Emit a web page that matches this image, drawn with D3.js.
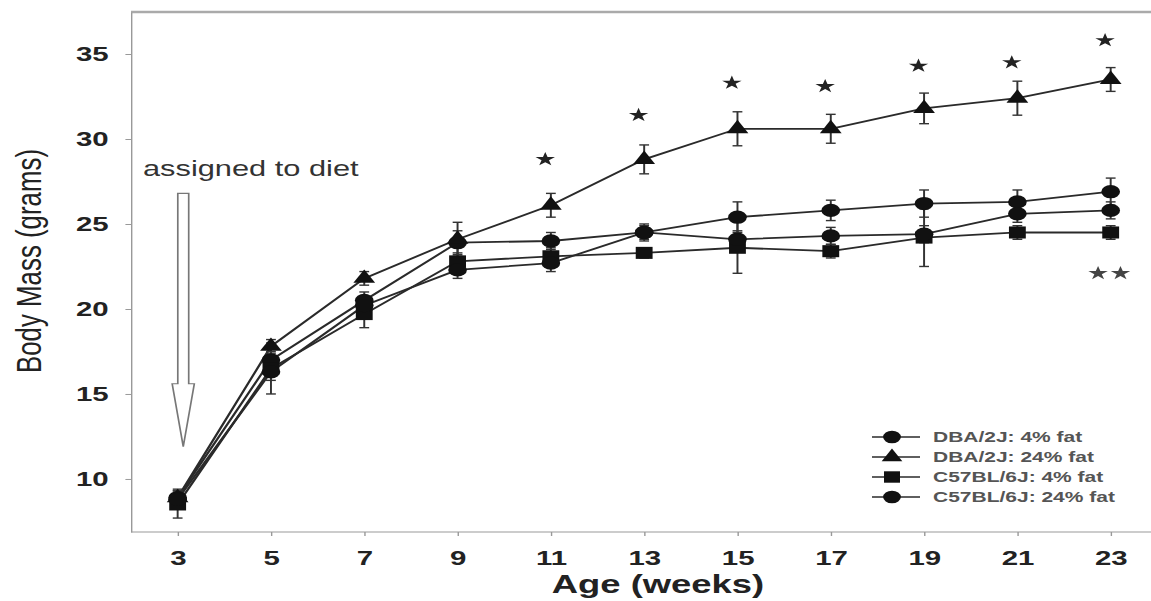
<!DOCTYPE html>
<html>
<head>
<meta charset="utf-8">
<title>Body Mass by Age</title>
<script src="https://d3js.org/d3.v7.min.js"></script>
<style>
    body { margin: 0; background: #fff; }
    svg { display: block; }
    .axis text { font-family: "Liberation Sans", Arial, sans-serif; font-weight: bold; font-size: 21px; fill: #222; }
    .axis path, .axis line { stroke: #999; }
    .series-line { fill: none; stroke: #2a2a2a; stroke-width: 1.8; }
    .err { stroke: #333; stroke-width: 1.4; }
    .legend text { font-family: "Liberation Sans", Arial, sans-serif; font-weight: bold; font-size: 15px; fill: #555; }
</style>
</head>
<body>
<script>
    // data
    var weeks = [3, 5, 7, 9, 11, 13, 15, 17, 19, 21, 23];

    var dba4 = [8.9, 17.0, 20.5, 23.9, 24.0, 24.5, 25.4, 25.8, 26.2, 26.3, 26.9];
    var dba4Err = [0.4, 0.5, 0.5, 0.7, 0.5, 0.5, 0.9, 0.6, 0.8, 0.7, 0.8];

    var dba24 = [8.9, 17.8, 21.8, 24.1, 26.1, 28.8, 30.6, 30.6, 31.8, 32.4, 33.5];
    var dba24Err = [0.5, 0.4, 0.4, 1.0, 0.7, 0.85, 1.0, 0.85, 0.9, 1.0, 0.7];

    var c57_4 = [8.5, 16.5, 19.7, 22.8, 23.1, 23.3, 23.6, 23.4, 24.2, 24.5, 24.5];
    var c57_4Err = [0.8, 1.5, 0.8, 0.5, 0.5, 0.3, 1.5, 0.4, 1.7, 0.4, 0.4];

    var c57_24 = [8.8, 16.3, 20.2, 22.3, 22.7, 24.5, 24.1, 24.3, 24.4, 25.6, 25.8];
    var c57_24Err = [0.3, 0.5, 0.5, 0.5, 0.5, 0.4, 0.5, 0.5, 0.5, 0.5, 0.5];

    var seriesNames = ["DBA/2J: 4% fat", "DBA/2J: 24% fat", "C57BL/6J: 4% fat", "C57BL/6J: 24% fat"];

    var starWeeks = [11, 13, 15, 17, 19, 21, 23];
    var starValues = [28.8, 31.4, 33.3, 33.1, 34.3, 34.5, 35.8];
    var doubleStarWeek = 23;
    var doubleStarValue = 22.1;

    var xTicks = [3, 5, 7, 9, 11, 13, 15, 17, 19, 21, 23];
    var yTicks = [10, 15, 20, 25, 30, 35];

    // arrow annotation (data units)
    var arrowWeek = 3.12;
    var arrowTop = 26.8;
    var arrowNeck = 15.6;
    var arrowTip = 11.9;

    // the picture is stretched sideways, so draw in a narrower box and stretch it
    var W = 1151, H = 601;
    var stretch = 1.4;
    var vw = W / stretch;

    var plotLeft = 131 / stretch, plotRight = 1151 / stretch;
    var plotTop = 12, plotBottom = 532;

    var x = d3.scaleLinear().domain([2, 23.8]).range([plotLeft, 820]);
    var y = d3.scaleLinear().domain([6.88, 37.47]).range([plotBottom, plotTop]);

    var svg = d3.select("body").append("svg")
        .attr("width", W)
        .attr("height", H)
        .attr("viewBox", "0 0 " + vw + " " + H)
        .attr("preserveAspectRatio", "none");

    // frame
    svg.append("line")
        .attr("x1", plotLeft).attr("x2", plotRight)
        .attr("y1", plotTop).attr("y2", plotTop)
        .attr("stroke", "#aaa").attr("stroke-width", 2.5);

    svg.append("g")
        .attr("class", "axis")
        .attr("transform", "translate(" + plotLeft + ",0)")
        .call(d3.axisLeft(y).tickValues(yTicks).tickSize(4).tickSizeOuter(0).tickPadding(12))
        .call(function (g) { g.selectAll(".tick line").attr("stroke", "#ccc"); });

    var xAxis = svg.append("g")
        .attr("class", "axis")
        .attr("transform", "translate(0," + plotBottom + ")")
        .call(d3.axisBottom(x).tickValues(xTicks).tickSize(4).tickSizeOuter(0).tickPadding(14));
    xAxis.selectAll(".tick line").attr("stroke", "#ccc");
    xAxis.select(".domain").attr("d", "M" + plotLeft + ",0H" + plotRight);

    // titles
    svg.append("text")
        .attr("x", 658 / stretch)
        .attr("y", 593)
        .attr("text-anchor", "middle")
        .style("font-family", "'Liberation Sans', Arial, sans-serif")
        .style("font-weight", "bold")
        .style("font-size", "26px")
        .style("fill", "#222")
        .text("Age (weeks)");

    svg.append("text")
        .attr("transform", "translate(" + (41 / stretch) + ",261) rotate(-90)")
        .attr("text-anchor", "middle")
        .attr("textLength", 224)
        .attr("lengthAdjust", "spacingAndGlyphs")
        .style("font-family", "'Liberation Sans', Arial, sans-serif")
        .style("font-size", "25px")
        .style("fill", "#222")
        .text("Body Mass (grams)");

    // arrow + note
    svg.append("text")
        .attr("x", 143 / stretch)
        .attr("y", 176)
        .style("font-family", "'Liberation Sans', Arial, sans-serif")
        .style("font-size", "22px")
        .style("fill", "#333")
        .text("assigned to diet");

    var ax = x(arrowWeek), sw = 3.9, hw = 7.9;
    svg.append("path")
        .attr("d", "M" + (ax - sw) + "," + y(arrowTop) +
            "H" + (ax + sw) + "V" + y(arrowNeck) +
            "H" + (ax + hw) + "L" + ax + "," + y(arrowTip) +
            "L" + (ax - hw) + "," + y(arrowNeck) +
            "H" + (ax - sw) + "Z")
        .attr("fill", "#fff")
        .attr("stroke", "#777")
        .attr("stroke-width", 1.2);

    // series
    var series = [
        { name: seriesNames[0], values: dba4, err: dba4Err, symbol: d3.symbolCircle, size: 140 },
        { name: seriesNames[1], values: dba24, err: dba24Err, symbol: d3.symbolTriangle, size: 105 },
        { name: seriesNames[2], values: c57_4, err: c57_4Err, symbol: d3.symbolSquare, size: 145 },
        { name: seriesNames[3], values: c57_24, err: c57_24Err, symbol: d3.symbolCircle, size: 140 }
    ];

    var line = d3.line()
        .x(function (d) { return x(d.week); })
        .y(function (d) { return y(d.value); });

    series.forEach(function (s) {
        s.points = weeks.map(function (w, i) {
            return { week: w, value: s.values[i], err: s.err[i] };
        });
    });

    svg.selectAll(".series-line")
        .data(series)
        .enter()
        .append("path")
        .attr("class", "series-line")
        .attr("d", function (d) { return line(d.points); });

    var cap = 3.5;
    series.forEach(function (s) {
        var g = svg.append("g");
        var eb = g.selectAll(".eb")
            .data(s.points)
            .enter()
            .append("g")
            .attr("class", "eb");
        eb.append("line").attr("class", "err")
            .attr("x1", function (d) { return x(d.week); })
            .attr("x2", function (d) { return x(d.week); })
            .attr("y1", function (d) { return y(d.value - d.err); })
            .attr("y2", function (d) { return y(d.value + d.err); });
        eb.append("line").attr("class", "err")
            .attr("x1", function (d) { return x(d.week) - cap; })
            .attr("x2", function (d) { return x(d.week) + cap; })
            .attr("y1", function (d) { return y(d.value + d.err); })
            .attr("y2", function (d) { return y(d.value + d.err); });
        eb.append("line").attr("class", "err")
            .attr("x1", function (d) { return x(d.week) - cap; })
            .attr("x2", function (d) { return x(d.week) + cap; })
            .attr("y1", function (d) { return y(d.value - d.err); })
            .attr("y2", function (d) { return y(d.value - d.err); });
    });

    series.forEach(function (s) {
        svg.append("g").selectAll("path")
            .data(s.points)
            .enter()
            .append("path")
            .attr("transform", function (d) { return "translate(" + x(d.week) + "," + y(d.value) + ")"; })
            .attr("d", d3.symbol().type(s.symbol).size(s.size))
            .attr("fill", "#111");
    });

    // significance stars
    var star = d3.symbol().type(d3.symbolStar).size(60);
    svg.selectAll(".star")
        .data(starWeeks)
        .enter()
        .append("path")
        .attr("class", "star")
        .attr("transform", function (d, i) { return "translate(" + (x(d) - 4) + "," + y(starValues[i]) + ")"; })
        .attr("d", star)
        .attr("fill", "#222");

    [-8, 8].forEach(function (dx) {
        svg.append("path")
            .attr("transform", "translate(" + (x(doubleStarWeek) + dx - 1) + "," + y(doubleStarValue) + ")")
            .attr("d", star)
            .attr("fill", "#444");
    });

    // legend
    var legend = svg.append("g")
        .attr("class", "legend")
        .attr("transform", "translate(" + (872 / stretch) + ",437)");

    var rows = legend.selectAll(".row")
        .data(series)
        .enter()
        .append("g")
        .attr("transform", function (d, i) { return "translate(0," + (i * 20) + ")"; });

    rows.append("line")
        .attr("x1", 0).attr("x2", 48 / stretch)
        .attr("stroke", "#2a2a2a").attr("stroke-width", 1.5);

    rows.append("path")
        .attr("transform", "translate(" + (20 / stretch) + ",0)")
        .attr("d", function (d) { return d3.symbol().type(d.symbol).size(d.size * 0.9)(); })
        .attr("fill", "#111");

    rows.append("text")
        .attr("x", 61 / stretch)
        .attr("dy", "0.36em")
        .text(function (d) { return d.name; });
</script>
</body>
</html>
